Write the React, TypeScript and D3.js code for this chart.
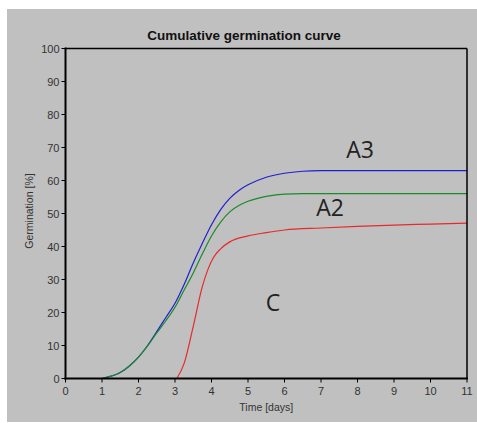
import * as React from "react";
import * as d3 from "d3";

const days = [1, 1.25, 1.5, 1.75, 2, 2.25, 2.5, 2.75, 3, 3.25, 3.5, 3.75, 4, 4.25, 4.5, 4.75, 5, 5.5, 6, 6.5, 7, 8, 9, 10, 11];
const a3 = [0, 0.7, 1.8, 3.8, 6.5, 10, 14.2, 18.5, 22.8, 28.5, 35, 41, 46.6, 51.2, 54.6, 57, 58.7, 61, 62.2, 62.8, 63, 63, 63, 63, 63];
const a2 = [0, 0.7, 1.8, 3.8, 6.5, 9.9, 13.8, 17.5, 21.6, 26.8, 32, 37.8, 43.2, 47.4, 50.5, 52.4, 53.7, 55.2, 55.9, 56, 56, 56, 56, 56, 56];

const cDays = [3.05, 3.25, 3.5, 3.75, 3.9, 4.05, 4.25, 4.5, 5, 5.5, 6, 7, 8, 9, 10, 11];
const cVals = [0, 4.6, 15.8, 27.9, 33, 36.6, 39.3, 41.4, 43.2, 44.2, 45, 45.6, 46.1, 46.5, 46.8, 47.1];

const xTicks = d3.range(0, 12);
const yTicks = d3.range(0, 101, 10);

const series = [
  { name: "A3", xs: days, ys: a3, color: "#1f1fd0", lx: 360, ly: 150 },
  { name: "A2", xs: days, ys: a2, color: "#1a8a2a", lx: 330, ly: 208 },
  { name: "C", xs: cDays, ys: cVals, color: "#e62a2a", lx: 273, ly: 303 },
];

export default function App() {
  const W = 477, H = 423;
  const left = 65.5, right = 467, top = 48.5, bottom = 378.5;
  const x = d3.scaleLinear().domain([0, 11]).range([left, right]);
  const y = d3.scaleLinear().domain([0, 100]).range([bottom, top]);
  const line = d3.line<[number, number]>()
    .x(d => x(d[0]))
    .y(d => y(d[1]))
    .curve(d3.curveMonotoneX);
  const font = "Liberation Sans, Arial, sans-serif";

  return (
    <div style={{ position: "absolute", left: 0, top: 0 }}>
      <svg width={W} height={H} style={{ display: "block" }}>
        <rect x={0} y={0} width={W} height={H} fill="#fff" />
        <rect x={7} y={9} width={W - 7} height={413} fill="#c0c0c0" />
        <text x={244} y={40} textAnchor="middle" fontFamily={font} fontWeight="bold" fontSize={13.5} fill="#111">
          Cumulative germination curve
        </text>
        {series.map(s => (
          <path key={s.name} d={line(s.xs.map((v, i) => [v, s.ys[i]]) as [number, number][]) || ""}
            fill="none" stroke={s.color} strokeWidth={1.2} />
        ))}
        {/* frame */}
        <line x1={left} x2={right} y1={top} y2={top} stroke="#000" strokeWidth={1.5} />
        <line x1={right} x2={right} y1={top} y2={bottom} stroke="#000" strokeWidth={1.5} />
        <line x1={left} x2={left} y1={top - 1} y2={bottom + 1} stroke="#000" strokeWidth={2} />
        <line x1={left - 1} x2={right + 1} y1={bottom} y2={bottom} stroke="#000" strokeWidth={2} />
        {yTicks.map(t => (
          <g key={"y" + t}>
            <line x1={left - 4} x2={left} y1={y(t)} y2={y(t)} stroke="#000" strokeWidth={1} />
            <text x={left - 6} y={y(t) + 4} textAnchor="end" fontFamily={font} fontSize={11} fill="#333">{t}</text>
          </g>
        ))}
        {xTicks.map(t => (
          <g key={"x" + t}>
            <line x1={x(t)} x2={x(t)} y1={bottom} y2={bottom + 4} stroke="#000" strokeWidth={1} />
            <text x={x(t)} y={bottom + 16} textAnchor="middle" fontFamily={font} fontSize={11} fill="#333">{t}</text>
          </g>
        ))}
        <text x={(left + right) / 2} y={411} textAnchor="middle" fontFamily={font} fontSize={10.5} fill="#333">Time [days]</text>
        <text transform={`translate(33,211) rotate(-90)`} textAnchor="middle" fontFamily={font} fontSize={10.5} fill="#333">Germination [%]</text>
        {series.map(s => (
          <text key={"l" + s.name} x={s.lx} y={s.ly + 8} textAnchor="middle" fontFamily="Open Sans, sans-serif" fontSize={23} fill="#222">{s.name}</text>
        ))}
      </svg>
    </div>
  );
}
